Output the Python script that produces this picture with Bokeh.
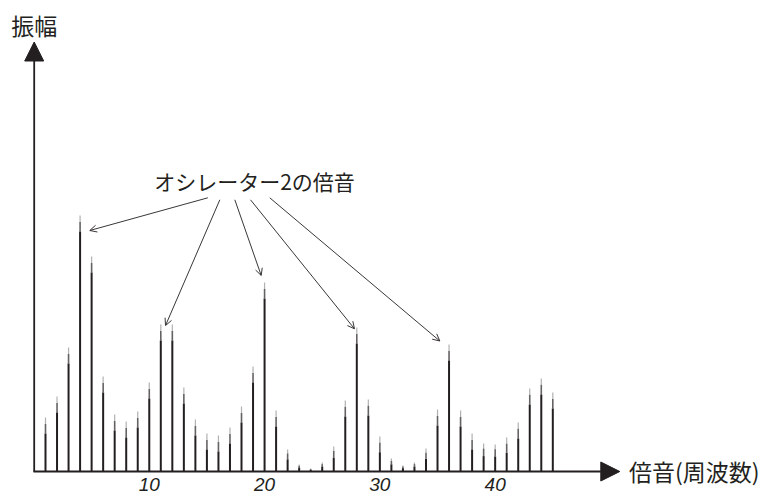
from bokeh.plotting import figure
from bokeh.models import Arrow, NormalHead, OpenHead, ColumnDataSource, Label
from bokeh.embed import file_html
from bokeh.resources import INLINE
from bokeh.core.properties import value

# ---- data ----
harmonics = list(range(1, 46))
amplitude = [54, 75, 124, 256, 215, 95, 57, 50, 60, 89,
             147, 147, 84, 52, 38, 36, 44, 65, 105, 189,
             61, 22, 7, 3, 9, 25, 71, 144, 72, 35,
             13, 6, 9, 23, 62, 127, 61, 38, 28, 27,
             34, 49, 83, 93, 79]
tick_values = [10, 20, 30, 40]
tick_labels = ["10", "20", "30", "40"]
x_title = "倍音(周波数)"
y_title = "振幅"
note_text = "オシレーター2の倍音"
# harmonics of oscillator 2 pointed at by the arrows
osc2_targets = [4, 11, 20, 28, 36]

INK = "#231f20"

p = figure(width=762, height=491, output_backend="svg", toolbar_location=None,
           x_range=(-2.903, 63.187), y_range=(-20, 471),
           x_axis_location=None, y_axis_location=None, min_border=0)
p.outline_line_color = None
p.grid.visible = False
p.background_fill_color = "white"
p.border_fill_color = "white"

# ---- spectral lines (body + lighter tapered tip) ----
taper = [min(16.0, 0.45 * a) for a in amplitude]
body_top = [a - t for a, t in zip(amplitude, taper)]
mid_top = [a - t * 0.4 for a, t in zip(amplitude, taper)]
src = ColumnDataSource(dict(x=harmonics, a=amplitude, b=body_top, m=mid_top,
                            z=[0] * len(harmonics)))
p.segment(x0="x", y0="z", x1="x", y1="b", source=src, line_color=INK, line_width=2.0)
p.segment(x0="x", y0="b", x1="x", y1="m", source=src, line_color=INK, line_width=1.6, line_alpha=0.7)
p.segment(x0="x", y0="m", x1="x", y1="a", source=src, line_color=INK, line_width=1.2, line_alpha=0.35)

# ---- axes drawn as arrows ----
p.add_layout(Arrow(end=NormalHead(size=19, fill_color=INK, line_color=INK),
                   x_start=-0.05, y_start=0, x_end=50.81, y_end=0,
                   line_color=INK, line_width=1.8))
p.add_layout(Arrow(end=NormalHead(size=19, fill_color=INK, line_color=INK),
                   x_start=0.02, y_start=0, x_end=0.02, y_end=429.5,
                   line_color=INK, line_width=1.8))

# tick labels
tsrc = ColumnDataSource(dict(x=tick_values, t=tick_labels, y=[-13] * len(tick_values)))
p.text(x="x", y="y", text="t", source=tsrc, text_font=value("Liberation Sans"),
       text_font_style="italic", text_font_size="19px", text_color=INK,
       text_align="center", text_baseline="alphabetic")

# titles
p.add_layout(Label(x=51.6, y=1, text=x_title, text_font="Noto Sans CJK JP",
                   text_font_size="23px", text_color=INK, text_align="left",
                   text_baseline="middle"))
p.add_layout(Label(x=0.02, y=447, text=y_title, text_font="Noto Sans CJK JP",
                   text_font_size="23px", text_color=INK, text_align="center",
                   text_baseline="middle"))

# annotation
p.add_layout(Label(x=19.13, y=291, text=note_text, text_font="Noto Sans CJK JP",
                   text_font_size="21px", text_color=INK, text_align="center",
                   text_baseline="middle"))

amp_of = {h: a for h, a in zip(harmonics, amplitude)}
start_x = [15.08, 16.12, 17.42, 18.78, 20.45]
start_y = [273.7, 271.7, 271.7, 271.7, 273.7]
end_dx = [0.84, 0.41, -0.29, -0.2, -0.8]
end_dy = [-15, -1, 7, -1.3, 3.5]
end_x = [t + d for t, d in zip(osc2_targets, end_dx)]
end_y = [amp_of[t] + d for t, d in zip(osc2_targets, end_dy)]
asrc = ColumnDataSource(dict(x0=start_x, y0=start_y, x1=end_x, y1=end_y))
p.add_layout(Arrow(end=OpenHead(size=7, line_width=0.9, line_color=INK), source=asrc,
                   x_start="x0", y_start="y0", x_end="x1", y_end="y1",
                   line_color=INK, line_width=0.9))

open("out.html", "w").write(file_html(p, INLINE))
